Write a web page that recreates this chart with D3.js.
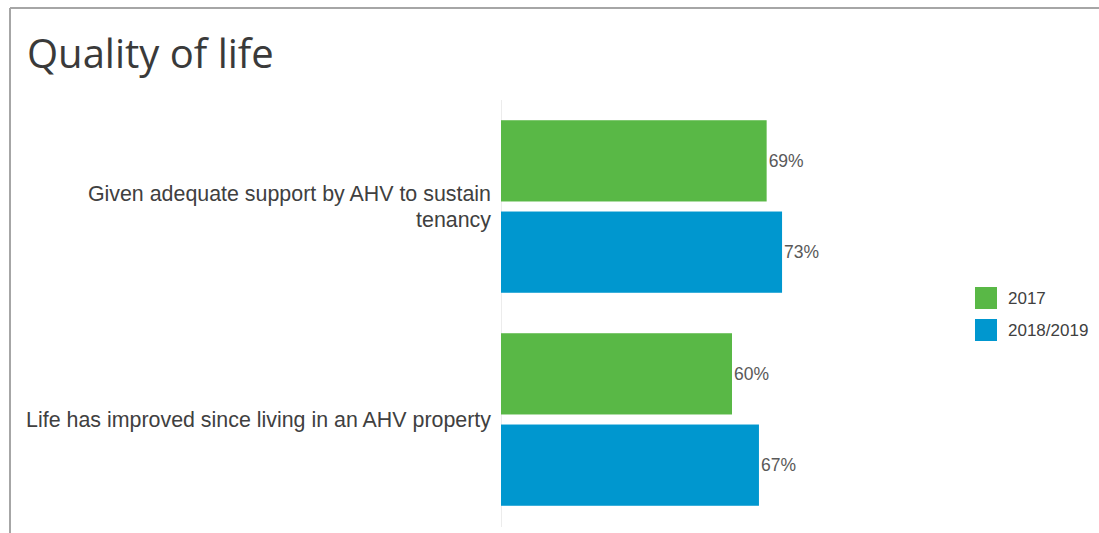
<!DOCTYPE html>
<html>
<head>
<meta charset="utf-8">
<script src="https://cdn.jsdelivr.net/npm/d3@7"></script>
<style>
  html, body { margin: 0; padding: 0; background: #fff; }
  svg { display: block; }
</style>
</head>
<body>
<svg id="chart" width="1099" height="533"></svg>
<script>
const title = "Quality of life";
const categories = [
  ["Given adequate support by AHV to sustain", "tenancy"],
  ["Life has improved since living in an AHV property"]
];
const seriesNames = ["2017", "2018/2019"];
const values2017 = [0.69, 0.60];
const values2018 = [0.73, 0.67];
const colors = ["#59b846", "#0097cf"];

const svg = d3.select("#chart");
const W = 1099, H = 533;

// frame
svg.append("line").attr("x1", 10).attr("x2", W).attr("y1", 8).attr("y2", 8)
  .attr("stroke", "#a6a6a6").attr("stroke-width", 2);
svg.append("line").attr("x1", 10).attr("x2", 10).attr("y1", 8).attr("y2", H)
  .attr("stroke", "#a6a6a6").attr("stroke-width", 2);

svg.append("text").attr("x", 27).attr("y", 68)
  .attr("font-family", "Open Sans, sans-serif").attr("font-size", 40)
  .attr("fill", "#3a3a3a").text(title);

const catKeys = categories.map((c, i) => i);
const y0 = d3.scaleBand().domain(catKeys).range([100, 526])
  .paddingInner(0.19).paddingOuter(0.095);
const y1 = d3.scaleBand().domain(seriesNames).range([0, y0.bandwidth()])
  .paddingInner(0.11);
const x = d3.scaleLinear().domain([0, 1]).range([501, 886]);

// faint axis line
svg.append("line").attr("x1", 501.5).attr("x2", 501.5).attr("y1", 100).attr("y2", 527)
  .attr("stroke", "#ececec").attr("stroke-width", 1);

const data = catKeys.map(i => ({
  cat: i,
  vals: [
    { s: seriesNames[0], v: values2017[i], c: colors[0] },
    { s: seriesNames[1], v: values2018[i], c: colors[1] }
  ]
}));

const g = svg.selectAll("g.cat").data(data).enter().append("g")
  .attr("transform", d => `translate(0,${y0(d.cat)})`);

g.selectAll("rect").data(d => d.vals).enter().append("rect")
  .attr("x", x(0)).attr("y", d => y1(d.s))
  .attr("width", d => x(d.v) - x(0)).attr("height", y1.bandwidth())
  .attr("fill", d => d.c);

g.selectAll("text.val").data(d => d.vals).enter().append("text")
  .attr("class", "val")
  .attr("x", d => x(d.v) + 2).attr("y", d => y1(d.s) + y1.bandwidth() / 2)
  .attr("dy", "0.35em")
  .attr("font-family", "Liberation Sans, Arial, sans-serif").attr("font-size", 17.5)
  .attr("fill", "#595959")
  .text(d => Math.round(d.v * 100) + "%");

// category labels
const lineH = 26;
data.forEach(d => {
  const lines = categories[d.cat];
  const cy = y0(d.cat) + y0.bandwidth() / 2;
  const t = svg.append("text")
    .attr("text-anchor", "end")
    .attr("font-family", "Liberation Sans, Arial, sans-serif").attr("font-size", 21.4)
    .attr("fill", "#404040");
  lines.forEach((ln, k) => {
    t.append("tspan").attr("x", 491)
      .attr("y", cy + (k - (lines.length - 1) / 2) * lineH)
      .attr("dy", "0.35em").text(ln);
  });
});

// legend
const leg = svg.selectAll("g.leg").data(seriesNames).enter().append("g")
  .attr("transform", (d, i) => `translate(975,${287 + i * 32})`);
leg.append("rect").attr("width", 22).attr("height", 22).attr("fill", (d, i) => colors[i]);
leg.append("text").attr("x", 33).attr("y", 11).attr("dy", "0.35em")
  .attr("font-family", "Liberation Sans, Arial, sans-serif").attr("font-size", 17)
  .attr("fill", "#404040").text(d => d);
</script>
</body>
</html>
